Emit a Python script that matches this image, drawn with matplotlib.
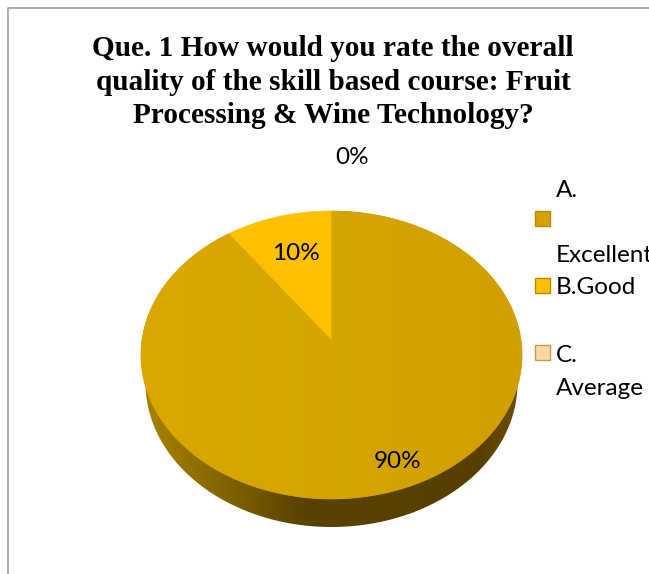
import numpy as np
import matplotlib
matplotlib.use("Agg")
import matplotlib.pyplot as plt
from matplotlib.colors import LinearSegmentedColormap
from matplotlib.patches import Polygon, Rectangle

title = "Que. 1 How would you rate the overall\nquality of the skill based course: Fruit\nProcessing & Wine Technology?"
categories = ["A.\n\nExcellent", "B.Good", "C.\nAverage"]
values = [90, 10, 0]
colors = ["#d3a200", "#ffc000", "#ffd9a0"]
edges = ["#b58a00", "#b58a00", "#c09a50"]

W, H = 649, 574
fig = plt.figure(figsize=(W / 100, H / 100), dpi=100)
ax = fig.add_axes([0, 0, 1, 1])
ax.set_xlim(0, W)
ax.set_ylim(H, 0)
ax.axis("off")

# chart frame runs off the right and bottom
ax.plot([8, 8, W], [H, 8, 8], color="#a6a6a6", lw=1.3)

ax.text(333, 82, title, ha="center", va="center", family="Liberation Serif",
        weight="bold", fontsize=21.1, linespacing=1.3, color="black")

# tilted disc: perspective projection of a unit circle
cx, cy = 331.5, 340
a, b, k = 189.5, 142.4, 0.104


def project(theta):
    u, v = np.sin(theta), np.cos(theta)
    w = 1 + k * v
    return cx + a * u / w, cy - b * v / w


# side wall
t = np.linspace(0, 2 * np.pi, 400)
wall = Polygon(np.c_[331.5 + 186 * np.cos(t), 383 + 144 * np.sin(t)], closed=True,
               fc="none", ec="none")
ax.add_patch(wall)
wall_cmap = LinearSegmentedColormap.from_list(
    "wall", [(0, "#a88200"), (0.25, "#7c5e00"), (0.42, "#5a4200"), (0.9, "#573f00"), (1, "#6a4e00")])
im = ax.imshow(np.linspace(0, 1, 256)[None, :], cmap=wall_cmap, extent=(145, 518, 540, 350),
               aspect="auto", zorder=1)
im.set_clip_path(wall)

# top face, one wedge per value going clockwise from twelve o'clock
shares = np.array(values) / sum(values)
starts = np.r_[0, np.cumsum(shares)[:-1]] * 2 * np.pi
top_cmap = LinearSegmentedColormap.from_list("top", ["#d9a900", "#d1a000"])
for start, share, color in zip(starts, shares, colors):
    if share == 0:
        continue
    ang = np.linspace(start, start + share * 2 * np.pi, 300)
    x, y = project(ang)
    pts = np.c_[np.r_[cx, x], np.r_[cy, y]]
    wedge = Polygon(pts, closed=True, fc=color, ec=color, lw=0.5, zorder=2)
    ax.add_patch(wedge)
    if color == colors[0]:
        grad = ax.imshow(np.linspace(0, 1, 256)[None, :], cmap=top_cmap,
                         extent=(140, 523, 500, 210), aspect="auto", zorder=2.1)
        grad.set_clip_path(wedge)

ax.set_xlim(0, W)
ax.set_ylim(H, 0)

# value labels
label_pos = [(398, 462), (296, 253), (352, 158)]
for (lx, ly), v in zip(label_pos, values):
    ax.text(lx, ly, f"{v}%", ha="center", va="center", family="Lato",
            fontsize=17.5, color="black", zorder=3)

# legend
swatch_y = [219, 286, 353]
text_y = [223, 287, 372]
for sy, ty, name, color, edge in zip(swatch_y, text_y, categories, colors, edges):
    ax.add_patch(Rectangle((534.5, sy - 8), 15, 15, fc=color, ec=edge, lw=1, zorder=3))
    ax.text(556, ty, name, ha="left", va="center", family="Lato", fontsize=17.5,
            linespacing=1.7, color="black", zorder=3, clip_on=True)

fig.savefig("out.png", dpi=100)
